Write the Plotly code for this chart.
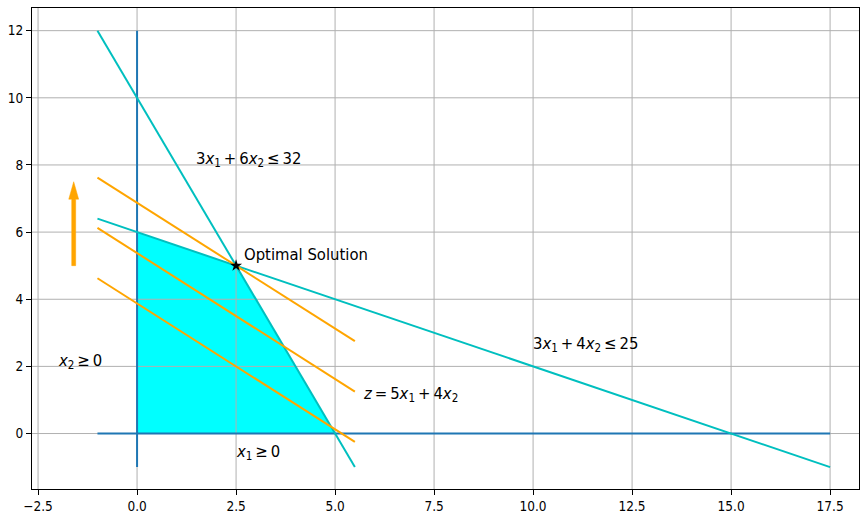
import plotly.graph_objects as go

# ---------------- data ----------------
x_ticks = [-2.5, 0.0, 2.5, 5.0, 7.5, 10.0, 12.5, 15.0, 17.5]
x_tick_text = ["\u22122.5", "0.0", "2.5", "5.0", "7.5", "10.0", "12.5", "15.0", "17.5"]
y_ticks = [0, 2, 4, 6, 8, 10, 12]
y_tick_text = ["0", "2", "4", "6", "8", "10", "12"]

# non-negativity axes lines
x1_axis_x = [-1, 17.5]
x1_axis_y = [0, 0]
x2_axis_x = [0, 0]
x2_axis_y = [-1, 12]

# constraint lines
c1_x = [-1, 5.5]
c1_y = [12, -1]
c2_x = [-1, 17.5]
c2_y = [6.4, -1]

# objective iso-lines
iso_x = [-1, 5.5]
iso_y_start = [7.625, 6.125, 4.625]
iso_y_end = [2.75, 1.25, -0.25]

# feasible region
feas_x = [0, 0, 2.5, 5]
feas_y = [0, 6, 5, 0]

# optimal point
opt_x = [2.5]
opt_y = [5]

# arrow (direction of increasing z)
arrow_x = -1.6
arrow_y = 5.0
arrow_dy = 2.5

# labels
TS = "\u2009"  # thin space, like mathtext spacing
label_text = [
    f"3<i>x</i><sub>1</sub>{TS}+{TS}6<i>x</i><sub>2</sub>{TS}\u2264{TS}32",
    "Optimal Solution",
    f"3<i>x</i><sub>1</sub>{TS}+{TS}4<i>x</i><sub>2</sub>{TS}\u2264{TS}25",
    f"<i>z</i>{TS}={TS}5<i>x</i><sub>1</sub>{TS}+{TS}4<i>x</i><sub>2</sub>",
    f"<i>x</i><sub>1</sub>{TS}\u2265{TS}0",
    f"<i>x</i><sub>2</sub>{TS}\u2265{TS}0",
]
label_x = [1.5, 2.7, 10.0, 5.7, 2.5, -2.0]
label_y = [8.0, 5.2, 2.5, 1.0, -0.7, 2.0]

# ---------------- styling ----------------
X_RANGE = [-2.653, 18.23]
Y_RANGE = [-1.652, 12.675]
FONT = "DejaVu Sans Condensed, Liberation Sans, DejaVu Sans, sans-serif"
BLUE = "#1f77b4"
TEAL = "#00bfbf"
ORANGE = "#ffa500"
CYAN = "#00ffff"
GRID = "#b0b0b0"
LW = 2

fig = go.Figure()

# feasible region (patch, below grid)
fig.add_trace(go.Scatter(x=feas_x + feas_x[:1], y=feas_y + feas_y[:1], mode="lines",
                         fill="toself", fillcolor=CYAN, line=dict(width=0),
                         hoverinfo="skip"))

# grid lines drawn above the patch but below lines (like matplotlib)
gx, gy = [], []
for t in x_ticks:
    gx += [t, t, None]
    gy += [Y_RANGE[0], Y_RANGE[1], None]
for t in y_ticks:
    gx += [X_RANGE[0], X_RANGE[1], None]
    gy += [t, t, None]
fig.add_trace(go.Scatter(x=gx, y=gy, mode="lines", line=dict(color=GRID, width=1),
                         hoverinfo="skip"))

# axes lines
fig.add_trace(go.Scatter(x=x1_axis_x, y=x1_axis_y, mode="lines", line=dict(color=BLUE, width=LW)))
fig.add_trace(go.Scatter(x=x2_axis_x, y=x2_axis_y, mode="lines", line=dict(color=BLUE, width=LW)))

# constraints
fig.add_trace(go.Scatter(x=c1_x, y=c1_y, mode="lines", line=dict(color=TEAL, width=LW)))
fig.add_trace(go.Scatter(x=c2_x, y=c2_y, mode="lines", line=dict(color=TEAL, width=LW)))

# iso-lines
for ys, ye in zip(iso_y_start, iso_y_end):
    fig.add_trace(go.Scatter(x=iso_x, y=[ys, ye], mode="lines", line=dict(color=ORANGE, width=LW)))

# optimal point
fig.add_trace(go.Scatter(x=opt_x, y=opt_y, mode="markers",
                         marker=dict(symbol="star", size=9, color="black")))

# arrow polygon
shaft_w = 0.1
head_w = 0.25
head_len = 0.52
top = arrow_y + arrow_dy
ax_pts = [arrow_x - shaft_w / 2, arrow_x - shaft_w / 2, arrow_x - head_w / 2, arrow_x,
          arrow_x + head_w / 2, arrow_x + shaft_w / 2, arrow_x + shaft_w / 2, arrow_x - shaft_w / 2]
ay_pts = [arrow_y, top - head_len, top - head_len, top, top - head_len, top - head_len, arrow_y, arrow_y]
fig.add_trace(go.Scatter(x=ax_pts, y=ay_pts, mode="lines", fill="toself", fillcolor=ORANGE,
                         line=dict(color=ORANGE, width=0.5), hoverinfo="skip"))

# labels
for t, x, y in zip(label_text, label_x, label_y):
    fig.add_annotation(x=x, y=y, text=t, showarrow=False, xanchor="left", yanchor="bottom",
                       borderpad=0, yshift=-6.5, xshift=-1,
                       font=dict(family=FONT, size=16.5, color="black"))

fig.update_layout(
    width=860, height=514,
    margin=dict(l=32, r=1, t=8, b=25),
    paper_bgcolor="white", plot_bgcolor="white",
    showlegend=False,
    font=dict(family=FONT, size=13.5, color="black"),
)
fig.update_xaxes(range=X_RANGE, tickvals=x_ticks, ticktext=x_tick_text, showgrid=False,
                 zeroline=False, showline=True, mirror=True, linecolor="black", linewidth=1,
                 ticks="outside", ticklen=5, tickcolor="black", tickwidth=1, automargin=False)
fig.update_yaxes(range=Y_RANGE, tickvals=y_ticks, ticktext=y_tick_text, showgrid=False,
                 zeroline=False, showline=True, mirror=True, linecolor="black", linewidth=1,
                 ticks="outside", ticklen=5, tickcolor="black", tickwidth=1, automargin=False)

fig.write_html("out.html", config={"displayModeBar": False},
               post_script="document.body.style.margin='0px';")
